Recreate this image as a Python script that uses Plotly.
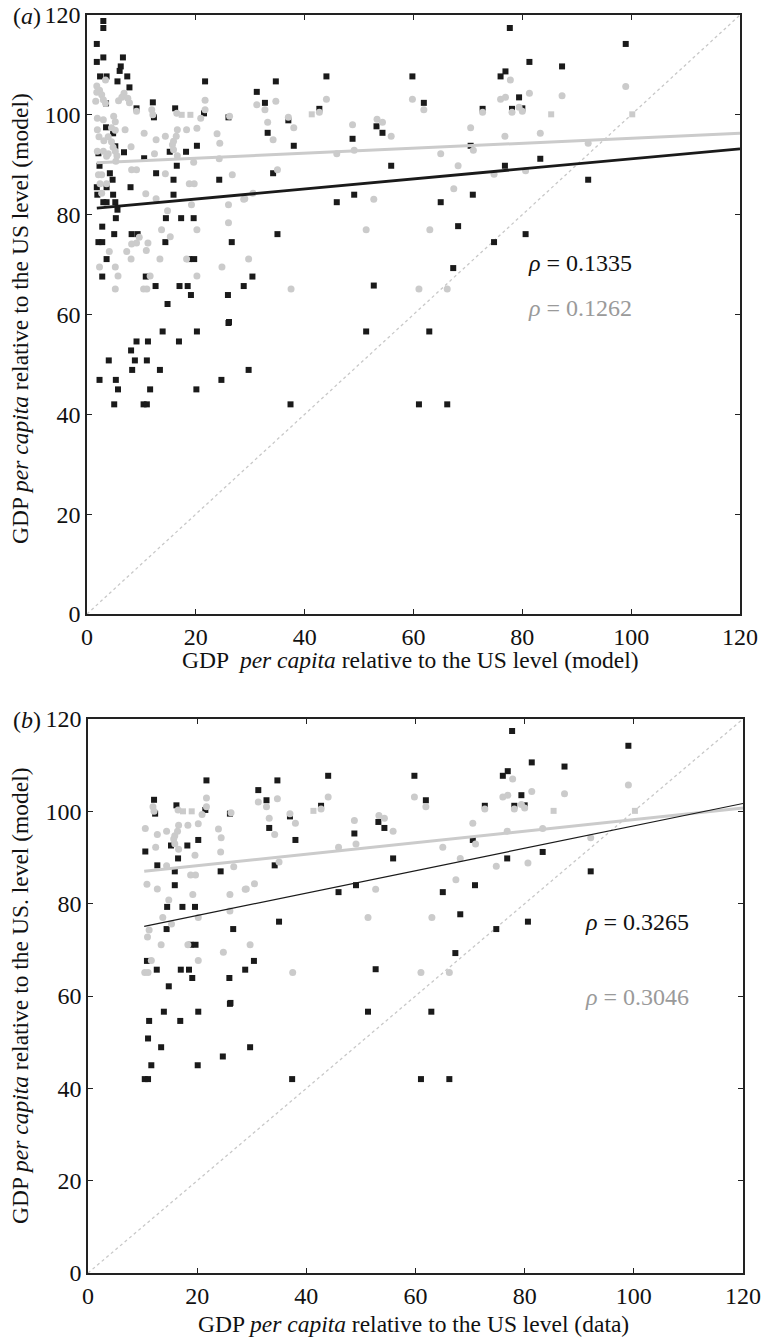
import plotly.graph_objects as go

# ---------------- data ----------------
black_x = [1.8, 3.0, 3.0, 1.8, 3.0, 2.4, 3.6, 6.6, 6.2, 6.0, 5.6, 7.4, 7.8, 9.1, 3.5, 12.1, 12.3, 16.2,
           21.7, 21.5, 26.0, 31.2, 3.5, 4.8, 5.2, 6.8, 2.1, 10.5, 20.2, 15.2, 18.2, 2.3, 12.7, 16.5,
           4.2, 4.7, 3.6, 1.8, 8.0, 15.9, 24.3, 1.9, 4.8, 15.9, 3.0, 3.6, 5.2, 5.6, 5.3, 14.5, 17.3,
           19.6, 2.8, 2.1, 2.8, 5.0, 8.2, 9.3, 14.4, 26.6, 3.6, 18.8, 19.7, 2.8, 10.8, 30.4, 12.6,
           17.0, 18.5, 28.8, 19.1, 25.9, 14.8, 26.0, 34.7, 32.7, 44.0, 33.2, 37.0, 38.0, 42.7, 34.2,
           59.8, 61.9, 48.8, 53.2, 54.3, 55.9, 49.1, 45.9, 65.0, 70.9, 68.2, 35.0, 74.8, 67.3, 52.7,
           70.5, 72.7, 76.0, 76.9, 77.7, 76.8, 78.1, 79.4, 81.3, 99.0, 87.3, 80.0, 83.3, 92.1, 80.6,
           51.3, 62.9, 29.7, 37.4, 61.0, 66.2, 2.3, 4.0, 5.3, 5.7, 5.0, 8.1, 8.8, 8.3, 9.1, 10.4,
           11.0, 11.0, 11.2, 11.6, 13.4, 13.9, 16.9, 20.2, 20.1, 24.7, 26.1]
black_y = [114.2, 118.8, 117.4, 110.6, 111.5, 107.7, 107.7, 111.5, 109.7, 108.8, 106.7, 107.7, 105.5,
           101.3, 102.3, 102.5, 99.5, 101.3, 106.7, 100.3, 99.5, 104.6, 97.5, 96.3, 93.7, 92.5, 92.3,
           91.3, 93.8, 92.6, 92.6, 89.8, 88.3, 89.8, 88.3, 87.0, 85.5, 85.5, 85.5, 87.0, 87.0, 84.0,
           84.0, 84.0, 82.5, 82.5, 82.5, 81.0, 79.3, 79.3, 79.3, 79.3, 77.6, 74.5, 74.5, 76.1, 76.1,
           76.1, 74.5, 74.5, 71.1, 71.1, 71.1, 67.6, 67.6, 67.6, 65.7, 65.7, 65.7, 65.7, 63.9, 63.9,
           62.1, 58.3, 106.7, 102.4, 107.7, 96.4, 98.9, 93.8, 101.2, 88.3, 107.7, 102.4, 95.2, 97.7,
           96.4, 89.8, 84.0, 82.5, 82.5, 84.0, 77.7, 76.1, 74.5, 69.3, 65.8, 93.8, 101.2, 107.7,
           108.7, 117.4, 89.8, 101.2, 103.5, 110.6, 114.2, 109.7, 101.3, 91.2, 87.0, 76.1, 56.6,
           56.6, 48.9, 42.0, 42.0, 42.0, 46.9, 50.8, 46.9, 45.0, 42.0, 52.8, 50.8, 48.9, 54.6, 42.0,
           42.0, 50.8, 54.6, 45.0, 48.9, 56.6, 54.6, 56.6, 45.0, 46.9, 58.5]

grey_x = [1.8, 2.3, 2.7, 3.0, 3.4, 1.8, 1.6, 3.4, 1.9, 3.0, 2.2, 3.9, 1.9, 3.1, 4.5, 1.9, 3.0, 3.9,
          4.8, 5.2, 5.5, 5.3, 4.9, 5.2, 4.5, 5.2, 5.8, 6.4, 6.8, 7.5, 7.8, 3.6, 2.1, 2.7, 2.4, 3.6,
          2.7, 7.0, 8.1, 8.2, 9.1, 9.1, 10.5, 10.8, 11.9, 12.1, 12.7, 12.4, 12.7, 14.4, 14.4, 14.8,
          15.7, 15.9, 16.4, 16.6, 15.9, 16.6, 16.5, 18.3, 18.8, 19.7, 19.2, 19.6, 20.2, 20.9, 21.7,
          21.7, 20.2, 13.7, 15.3, 23.9, 24.4, 24.3, 26.7, 26.2, 26.0, 26.0, 29.0, 29.7, 30.5, 31.2,
          9.6, 9.1, 8.2, 8.1, 7.3, 4.1, 2.3, 5.2, 5.7, 5.2, 10.4, 11.0, 10.9, 11.2, 11.6, 13.4, 18.3,
          20.2, 24.8, 32.7, 34.7, 33.2, 34.2, 37.0, 38.0, 42.7, 44.0, 35.0, 28.8, 45.9, 48.8, 49.1,
          52.7, 51.3, 53.3, 54.3, 55.9, 37.5, 59.8, 61.9, 65.0, 63.0, 61.0, 66.2, 67.4, 68.2, 70.5,
          71.0, 72.7, 74.8, 76.0, 76.9, 76.8, 77.8, 78.1, 79.4, 81.3, 87.3, 99.0, 80.0, 83.3, 92.1,
          80.6]
grey_y = [105.8, 104.9, 104.0, 103.0, 102.3, 104.5, 102.7, 107.0, 99.3, 99.0, 95.6, 95.6, 97.0, 94.8,
          94.6, 92.7, 92.7, 92.2, 93.5, 92.7, 91.8, 90.7, 99.7, 98.6, 97.4, 96.9, 102.8, 103.5, 104.3,
          103.3, 102.4, 91.7, 88.0, 88.0, 86.2, 86.2, 84.3, 97.0, 93.6, 89.0, 89.0, 100.7, 96.3, 84.2,
          101.0, 100.0, 95.0, 92.2, 83.2, 95.7, 88.2, 80.8, 94.0, 94.7, 95.7, 97.0, 93.0, 91.8, 100.3,
          97.0, 86.2, 86.2, 82.0, 90.5, 97.3, 99.3, 101.0, 102.9, 77.0, 77.0, 75.6, 96.2, 94.3, 91.2,
          88.0, 99.7, 82.0, 78.4, 83.2, 71.1, 84.3, 102.0, 75.5, 74.3, 74.1, 71.1, 72.6, 72.6, 69.5,
          69.5, 67.7, 65.1, 65.1, 65.1, 72.8, 74.3, 67.7, 71.1, 71.1, 67.7, 69.5, 101.0, 102.7, 98.5,
          95.0, 99.5, 97.4, 100.5, 103.1, 89.0, 83.1, 92.2, 98.0, 92.9, 83.1, 77.0, 99.1, 98.5, 95.7,
          65.1, 103.1, 101.0, 92.2, 77.0, 65.1, 65.1, 85.2, 89.8, 97.4, 92.9, 100.5, 88.1, 103.1,
          103.5, 95.7, 107.0, 100.5, 101.5, 104.3, 103.8, 105.7, 100.7, 96.3, 94.3, 88.8]

# grey points drawn as squares (y = 100 group)
grey_sq_x = [17.4, 19.0, 41.3, 85.3, 100.2]
grey_sq_y = [100.0, 100.0, 100.1, 100.1, 100.1]

# panel (b) shows only the countries whose x value is at least this
panel_b_min_x = 10.0

# fitted lines (end points)
fit_a_x = [1.8, 120]
fit_a_black_y = [81.3, 93.2]
fit_a_grey_y = [90.4, 96.3]
fit_b_x = [10.3, 120]
fit_b_black_y = [75.1, 101.7]
fit_b_grey_y = [87.0, 100.7]

diag = [0, 120]
ticks = [0, 20, 40, 60, 80, 100, 120]

rho_a = ["0.1335", "0.1262"]
rho_b = ["0.3265", "0.3046"]

BLACK = "#1a1a1a"
GREY = "#cbcbcb"
FONT = "Liberation Serif, Times New Roman, serif"

fig = go.Figure()

def add_panel(xa, ya, bx, by, gx, gy, sqx, sqy, fx, fby, fgy, black_w):
    fig.add_trace(go.Scatter(x=diag, y=diag, mode="lines", xaxis=xa, yaxis=ya,
                             line=dict(color="#c8c8c8", width=1.3, dash="dot"), showlegend=False))
    fig.add_trace(go.Scatter(x=bx, y=by, mode="markers", xaxis=xa, yaxis=ya,
                             marker=dict(symbol="square", size=6, color=BLACK), showlegend=False))
    fig.add_trace(go.Scatter(x=gx, y=gy, mode="markers", xaxis=xa, yaxis=ya,
                             marker=dict(symbol="circle", size=7, color=GREY), showlegend=False))
    fig.add_trace(go.Scatter(x=sqx, y=sqy, mode="markers", xaxis=xa, yaxis=ya,
                             marker=dict(symbol="square", size=6, color=GREY), showlegend=False))
    fig.add_trace(go.Scatter(x=fx, y=fgy, mode="lines", xaxis=xa, yaxis=ya,
                             line=dict(color=GREY, width=3), showlegend=False))
    fig.add_trace(go.Scatter(x=fx, y=fby, mode="lines", xaxis=xa, yaxis=ya,
                             line=dict(color=BLACK, width=black_w), showlegend=False))

add_panel("x", "y", black_x, black_y, grey_x, grey_y, grey_sq_x, grey_sq_y,
          fit_a_x, fit_a_black_y, fit_a_grey_y, 2.8)

bbx = [x for x in black_x if x >= panel_b_min_x]
bby = [y for x, y in zip(black_x, black_y) if x >= panel_b_min_x]
bgx = [x for x in grey_x if x >= panel_b_min_x]
bgy = [y for x, y in zip(grey_x, grey_y) if x >= panel_b_min_x]
bsx = [x for x in grey_sq_x if x >= panel_b_min_x]
bsy = [y for x, y in zip(grey_sq_x, grey_sq_y) if x >= panel_b_min_x]
add_panel("x2", "y2", bbx, bby, bgx, bgy, bsx, bsy,
          fit_b_x, fit_b_black_y, fit_b_grey_y, 1.2)

W, H = 761, 1339
def px_x(p): return p / W
def px_y(p): return 1 - p / H

axis_common = dict(range=[0, 120], tickvals=ticks, ticks="inside", ticklen=5, tickwidth=1,
                   tickcolor="#222", showline=True, linecolor="#222", linewidth=1.5,
                   mirror="ticks", showgrid=False, zeroline=False,
                   tickfont=dict(family=FONT, size=24, color="#111"))

fig.update_layout(
    width=W, height=H, margin=dict(l=0, r=0, t=0, b=0, autoexpand=False),
    paper_bgcolor="white", plot_bgcolor="white",
    xaxis=dict(domain=[px_x(87), px_x(740)], anchor="y", **axis_common),
    yaxis=dict(domain=[px_y(614), px_y(15)], anchor="x", **axis_common),
    xaxis2=dict(domain=[px_x(88), px_x(743)], anchor="y2", **axis_common),
    yaxis2=dict(domain=[px_y(1273), px_y(719)], anchor="x2", **axis_common),
    font=dict(family=FONT, color="#111"),
)

ann = []
def txt(x, y, s, size=23.5, color="#111", angle=0, xanchor="center"):
    ann.append(dict(x=px_x(x), y=px_y(y), xref="paper", yref="paper", text=s, showarrow=False,
                    font=dict(family=FONT, size=size, color=color), textangle=angle,
                    xanchor=xanchor, yanchor="middle"))

txt(410, 660, "GDP  <i>per capita</i> relative to the US level (model)")
txt(413, 1324, "GDP <i>per capita</i> relative to the US level (data)")
txt(20, 319, "GDP <i>per capita</i> relative to the US level (model)", angle=-90)
txt(20, 996, "GDP <i>per capita</i> relative to the US. level (model)", angle=-90)
txt(11, 16, "(<i>a</i>)", size=24, xanchor="left")
txt(11, 720, "(<i>b</i>)", size=24, xanchor="left")

fig.layout.annotations = ann
fig.add_annotation(x=80.6, y=70.3, xref="x", yref="y", text="<i>ρ</i> = " + rho_a[0], showarrow=False,
                   xanchor="left", font=dict(family=FONT, size=24, color="#111"))
fig.add_annotation(x=80.6, y=61.3, xref="x", yref="y", text="<i>ρ</i> = " + rho_a[1], showarrow=False,
                   xanchor="left", font=dict(family=FONT, size=24, color="#9a9a9a"))
fig.add_annotation(x=90.6, y=76.0, xref="x2", yref="y2", text="<i>ρ</i> = " + rho_b[0], showarrow=False,
                   xanchor="left", font=dict(family=FONT, size=24, color="#111"))
fig.add_annotation(x=90.6, y=59.8, xref="x2", yref="y2", text="<i>ρ</i> = " + rho_b[1], showarrow=False,
                   xanchor="left", font=dict(family=FONT, size=24, color="#9a9a9a"))

fig.write_html("out.html", config={"displayModeBar": False},
               post_script="document.body.style.margin='0';document.body.style.overflow='hidden';")
